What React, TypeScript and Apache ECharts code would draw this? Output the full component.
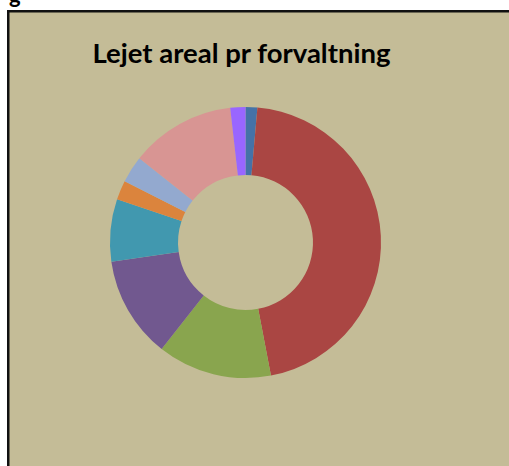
import React, { useEffect, useRef } from "react";
import * as echarts from "echarts";

const categories = [
  "Forvaltning 1",
  "Forvaltning 2",
  "Forvaltning 3",
  "Forvaltning 4",
  "Forvaltning 5",
  "Forvaltning 6",
  "Forvaltning 7",
  "Forvaltning 8",
  "Forvaltning 9",
];
const values = [1.4, 45.5, 13.6, 12.1, 7.4, 2.3, 3.2, 12.5, 1.8];
const colors = [
  "#4572A7",
  "#AA4643",
  "#89A54E",
  "#71588F",
  "#4198AF",
  "#DB843D",
  "#93A9CF",
  "#D89593",
  "#9966FF",
];
const titleText = "Lejet areal pr forvaltning";

export default function App() {
  const ref = useRef<HTMLDivElement>(null);
  useEffect(() => {
    if (!ref.current) return;
    const chart = echarts.init(ref.current, null, { renderer: "svg" });
    chart.setOption({
      animation: false,
      backgroundColor: "#ffffff",
      graphic: [
        {
          type: "rect",
          z: -10,
          shape: { x: 8.25, y: 11.25, width: 700, height: 700 },
          style: { fill: "#C4BC97", stroke: "#111111", lineWidth: 2.5 },
          silent: true,
        },
        {
          type: "text",
          x: 9,
          y: -17,
          style: {
            text: "g",
            fontFamily: "Lato",
            fontWeight: "bold",
            fontSize: 22,
            fill: "#000000",
          },
          silent: true,
        },
      ],
      title: {
        text: titleText,
        left: 236.5,
        top: 33,
        textAlign: "center",
        textStyle: {
          fontFamily: "Lato",
          fontWeight: "bold",
          fontSize: 27.5,
          color: "#000000",
        },
      },
      series: [
        {
          type: "pie",
          center: [245.5, 242.5],
          radius: [67.5, 135.5],
          startAngle: 90,
          clockwise: true,
          label: { show: false },
          labelLine: { show: false },
          emphasis: { disabled: true },
          itemStyle: { borderWidth: 0 },
          data: categories.map((name, i) => ({
            name,
            value: values[i],
            itemStyle: { color: colors[i] },
          })),
        },
      ],
    });
    return () => chart.dispose();
  }, []);
  return (
    <div
      ref={ref}
      style={{
        position: "fixed",
        left: 0,
        top: 0,
        width: 509,
        height: 466,
      }}
    />
  );
}
